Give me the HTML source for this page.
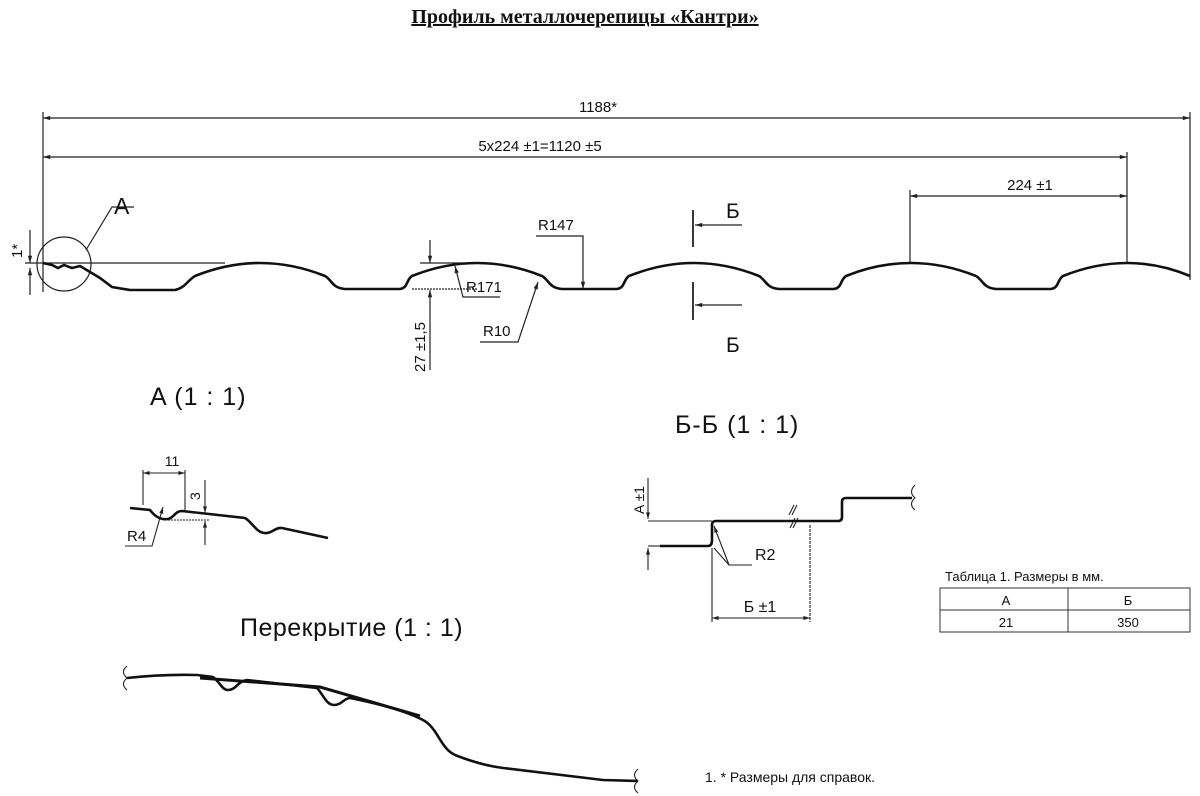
<!DOCTYPE html>
<html><head><meta charset="utf-8"><style>
body{margin:0;background:#fff}
svg{display:block}
text{font-family:"Liberation Sans",sans-serif;fill:#111}
</style></head><body>
<svg width="1200" height="796" viewBox="0 0 1200 796" xmlns="http://www.w3.org/2000/svg">
<defs>
<marker id="a" viewBox="0 0 10 10" refX="10" refY="5" markerWidth="9" markerHeight="6" orient="auto-start-reverse"><path d="M0,2 L10,5 L0,8z" fill="#222"/></marker>
</defs>
<rect width="1200" height="796" fill="#fff"/>
<text x="585" y="23" text-anchor="middle" style="font-family:'Liberation Serif',serif;font-weight:bold;font-size:20px;text-decoration:underline">Профиль металлочерепицы «Кантри»</text>

<g stroke="#222" stroke-width="1.2" fill="none">
<line x1="43" y1="112" x2="43" y2="292"/>
<line x1="1190" y1="112" x2="1190" y2="280"/>
<line x1="1127" y1="152" x2="1127" y2="263"/>
<line x1="910" y1="190" x2="910" y2="263"/>
<line x1="43" y1="118" x2="1190" y2="118" marker-start="url(#a)" marker-end="url(#a)"/>
<line x1="43" y1="157" x2="1127" y2="157" marker-start="url(#a)" marker-end="url(#a)"/>
<line x1="910" y1="196" x2="1127" y2="196" marker-start="url(#a)" marker-end="url(#a)"/>
<line x1="25" y1="263" x2="225" y2="263"/>
<line x1="420" y1="263" x2="470" y2="263"/>
<line x1="30" y1="230" x2="30" y2="263" marker-end="url(#a)"/>
<line x1="30" y1="295" x2="30" y2="268" marker-end="url(#a)"/>
<circle cx="64" cy="264" r="27"/>
<polyline points="86,250 112,207 134,207"/>
<line x1="430" y1="240" x2="430" y2="263" marker-end="url(#a)"/>
<line x1="430" y1="370" x2="430" y2="290" marker-end="url(#a)"/>
<line x1="412" y1="289" x2="478" y2="289" stroke-dasharray="2,1"/>
<polyline points="536,236 583,236 583,289" marker-end="url(#a)"/>
<polyline points="500,297 463,297 455,266" marker-end="url(#a)"/>
<polyline points="480,342 518,342 538,282" marker-end="url(#a)"/>
<line x1="693" y1="210" x2="693" y2="247" stroke-width="1.8"/>
<line x1="693" y1="282" x2="693" y2="320" stroke-width="1.8"/>
<line x1="742" y1="225" x2="695" y2="225" marker-end="url(#a)"/>
<line x1="742" y1="305" x2="695" y2="305" marker-end="url(#a)"/>
</g>

<path stroke="#111" stroke-width="2.6" fill="none" d="M43,263 L52,265 L58,268 L64,265 L72,268 L80,266 L90,272 L100,278 L112,287 L130,290 L175,290 C185,288 188,280 195,276 Q260,250 325,276 C332,280 332,288 345,289 L400,289 C408,288 406,280 412,276 Q477,250 542,276 C549,280 549,288 562,289 L617,289 C625,288 623,280 629,276 Q694,250 759,276 C766,280 766,288 779,289 L834,289 C842,288 840,280 846,276 Q911,250 976,276 C983,280 983,288 996,289 L1051,289 C1059,288 1057,280 1063,276 Q1128,250 1190,276"/>

<g font-size="15">
<text x="598" y="112" text-anchor="middle">1188*</text>
<text x="540" y="151" text-anchor="middle">5x224 ±1=1120 ±5</text>
<text x="1030" y="190" text-anchor="middle">224 ±1</text>
<text x="538" y="230">R147</text>
<text x="466" y="292">R171</text>
<text x="483" y="336">R10</text>
<text transform="translate(425,372) rotate(-90)">27 ±1,5</text>
<text transform="translate(22,258) rotate(-90)">1*</text>
</g>
<text x="114" y="214" font-size="23">A</text>
<text x="726" y="218" font-size="21">Б</text>
<text x="726" y="352" font-size="21">Б</text>

<text x="150" y="405" font-size="25" letter-spacing="1">A  (1 : 1)</text>
<text x="675" y="433" font-size="25" letter-spacing="1">Б-Б   (1 : 1)</text>
<text x="240" y="636" font-size="25" letter-spacing="0.5">Перекрытие (1 : 1)</text>

<g stroke="#222" stroke-width="1.1" fill="none">
<line x1="143" y1="505" x2="143" y2="470"/>
<line x1="185" y1="510" x2="185" y2="470"/>
<line x1="143" y1="473" x2="185" y2="473" marker-start="url(#a)" marker-end="url(#a)"/>
<line x1="205" y1="480" x2="205" y2="513" marker-end="url(#a)"/>
<line x1="205" y1="545" x2="205" y2="521" marker-end="url(#a)"/>
<line x1="165" y1="520" x2="210" y2="520" stroke-dasharray="2,1"/>
<polyline points="125,546 152,546 163,507" marker-end="url(#a)"/>
</g>
<path stroke="#111" stroke-width="2.6" fill="none" d="M130,508 L150,510 C156,518 162,520 168,519 C174,518 175,511 182,511 L245,518 C252,522 256,532 264,533 C272,534 275,527 282,528 L328,538"/>
<text x="172" y="466" font-size="14" text-anchor="middle">11</text>
<text transform="translate(200,500) rotate(-90)" font-size="14">3</text>
<text x="127" y="541" font-size="15">R4</text>

<g stroke="#222" stroke-width="1.1" fill="none">
<line x1="648" y1="521" x2="712" y2="521"/>
<line x1="648" y1="478" x2="648" y2="519" marker-end="url(#a)"/>
<line x1="648" y1="570" x2="648" y2="548" marker-end="url(#a)"/>
<line x1="648" y1="546" x2="660" y2="546"/>
<line x1="712" y1="548" x2="712" y2="622"/>
<line x1="810" y1="525" x2="810" y2="622" stroke-dasharray="3,1"/>
<line x1="712" y1="618" x2="810" y2="618" marker-start="url(#a)" marker-end="url(#a)"/>
<polyline points="752,565 729,565 714,526" marker-end="url(#a)"/>
<line x1="729" y1="565" x2="714" y2="548"/>
<path d="M794,505 L789,515 M790,528 L795,518 M797,505 L792,515 M793,528 L798,518"/>
<path d="M915,485 Q908,492 915,498 Q908,504 915,510"/>
</g>
<path stroke="#111" stroke-width="2.6" fill="none" d="M660,546 L708,546 Q712,546 712,540 L712,525 Q712,521 716,521 L838,521 Q842,521 842,517 L842,502 Q842,498 846,498 L912,498"/>
<text transform="translate(644,514) rotate(-90)" font-size="14">A ±1</text>
<text x="755" y="560" font-size="16">R2</text>
<text x="760" y="612" font-size="16" text-anchor="middle">Б ±1</text>

<text x="945" y="581" font-size="13">Таблица 1. Размеры в мм.</text>
<g stroke="#333" stroke-width="1" fill="none">
<rect x="940" y="588" width="250" height="44"/>
<line x1="940" y1="610" x2="1190" y2="610"/>
<line x1="1068" y1="588" x2="1068" y2="632"/>
</g>
<g font-size="13" text-anchor="middle">
<text x="1006" y="605">A</text><text x="1128" y="605">Б</text>
<text x="1006" y="627">21</text><text x="1128" y="627">350</text>
</g>

<path stroke="#111" stroke-width="2.6" fill="none" d="M127,678 Q165,674 197,675 L213,677 C220,682 222,690 228,690 C236,690 238,681 247,680 L317,688 C323,694 326,705 334,705 C342,705 344,698 350,698 Q400,708 423,720 C438,728 440,748 455,755 Q480,765 503,768 L603,780 L638,781"/>
<path stroke="#111" stroke-width="3" fill="none" d="M200,678 L320,687 L420,716"/>
<g stroke="#222" stroke-width="1.1" fill="none">
<path d="M127,666 Q120,672 127,678 Q120,684 127,690"/>
<path d="M638,769 Q631,775 638,781 Q631,787 638,793"/>
</g>

<text x="705" y="782" font-size="14">1.    * Размеры для справок.</text>
</svg>
</body></html>
